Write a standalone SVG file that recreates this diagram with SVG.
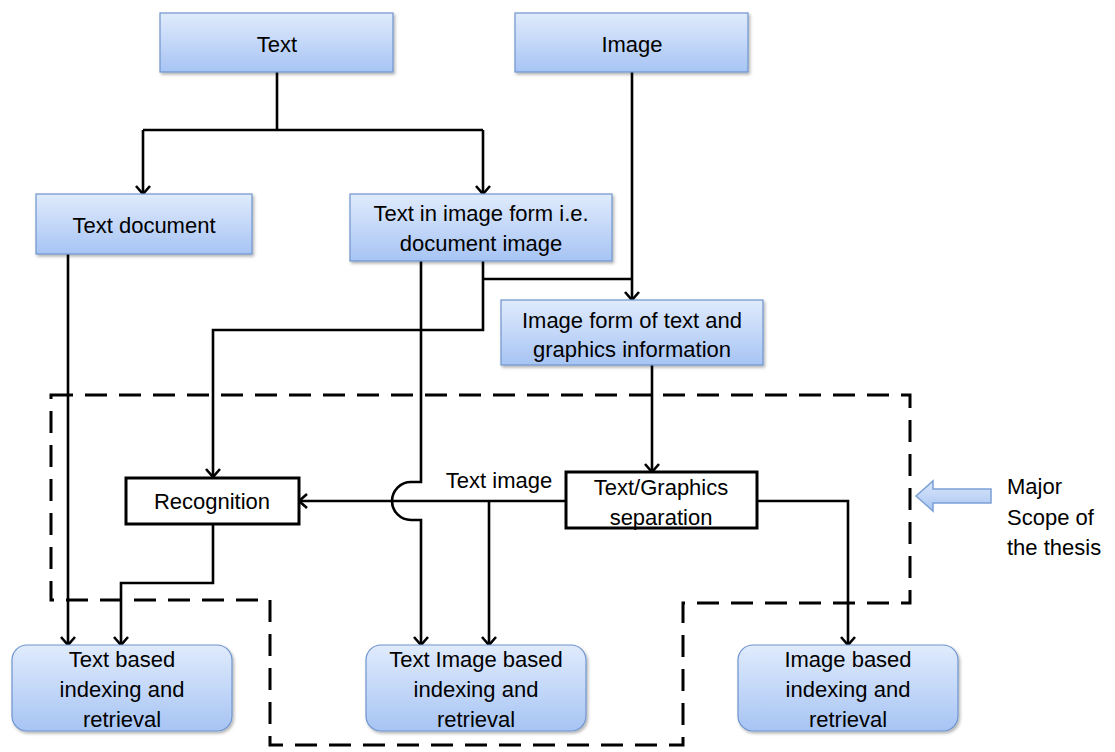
<svg xmlns="http://www.w3.org/2000/svg" width="1115" height="752" viewBox="0 0 1115 752">
<style>
.bx{fill:url(#bg);stroke:#6e94cd;stroke-width:1.2;filter:url(#sh)}
.wb{fill:#fff;stroke:#000;stroke-width:3}
.t{font-family:"Liberation Sans",Arial,sans-serif;font-size:22px;fill:#000;text-anchor:middle}
.c{fill:none;stroke:#000;stroke-width:2.6}
.ca{fill:none;stroke:#000;stroke-width:2.6;marker-end:url(#ah)}
.d{fill:none;stroke:#000;stroke-width:3;stroke-dasharray:22 12}
</style>
<defs>
<linearGradient id="bg" x1="0" y1="0" x2="0" y2="1">
<stop offset="0" stop-color="#e0ebfc"/>
<stop offset="1" stop-color="#a7c4f4"/>
</linearGradient>
<linearGradient id="ag" x1="0" y1="0" x2="0" y2="1">
<stop offset="0" stop-color="#dbe7fb"/>
<stop offset="1" stop-color="#a9c5f2"/>
</linearGradient>
<filter id="sh" x="-10%" y="-10%" width="125%" height="130%">
<feDropShadow dx="1.5" dy="2" stdDeviation="1.5" flood-color="#000" flood-opacity="0.3"/>
</filter>
<marker id="ah" markerUnits="userSpaceOnUse" markerWidth="20" markerHeight="20" viewBox="0 0 20 20" refX="11" refY="10" orient="auto">
<path d="M3,3 L11,10 L3,17" fill="none" stroke="#000" stroke-width="2.6"/>
</marker>
</defs>
<rect width="1115" height="752" fill="#fff"/>

<g id="scope">
<path class="d" d="M51,395 H910 V603 H683 V745 H270 V600 H51 Z"/>
</g>

<g id="connectors">
<path class="c" d="M277,72 V130"/>
<path class="c" d="M143,130 H483"/>
<path class="ca" d="M143,130 V194"/>
<path class="ca" d="M483,130 V194"/>
<path class="ca" d="M632,72 V300"/>
<path class="c" d="M483,279 H632"/>
<path class="ca" d="M483,261 V330 H213 V477"/>
<path class="ca" d="M421,261 V482 H411 A19,19 0 0 0 411,520 H421 V645"/>
<path class="ca" d="M652,365 V472"/>
<path class="ca" d="M566,501 H299"/>
<path class="ca" d="M489,501 V645"/>
<path class="ca" d="M757,501 H848 V645"/>
<path class="ca" d="M213,524 V583 H121 V645"/>
<path class="ca" d="M68,254 V645"/>
</g>

<g id="n-text">
<rect class="bx" x="160" y="13" width="233" height="59"/>
<text class="t" x="277" y="52">Text</text>
</g>
<g id="n-image">
<rect class="bx" x="515" y="13" width="233" height="59"/>
<text class="t" x="632" y="52">Image</text>
</g>
<g id="n-textdoc">
<rect class="bx" x="36" y="194" width="216" height="60"/>
<text class="t" x="144" y="233">Text document</text>
</g>
<g id="n-textimg">
<rect class="bx" x="350" y="194" width="262" height="67"/>
<text class="t" x="481" y="221">Text in image form i.e.</text>
<text class="t" x="481" y="251">document image</text>
</g>
<g id="n-imgform">
<rect class="bx" x="501" y="300" width="262" height="65"/>
<text class="t" x="632" y="328">Image form of text and</text>
<text class="t" x="632" y="357">graphics information</text>
</g>
<g id="n-recog">
<rect class="wb" x="126" y="478" width="173" height="46"/>
<text class="t" x="212" y="509">Recognition</text>
</g>
<g id="n-tgsep">
<rect class="wb" x="566" y="472" width="191" height="56"/>
<text class="t" x="661" y="495">Text/Graphics</text>
<text class="t" x="661" y="525">separation</text>
</g>
<g id="l-textimage">
<text class="t" x="499" y="488">Text image</text>
</g>
<g id="n-textbased">
<rect class="bx" x="12" y="645" width="220" height="86" rx="15"/>
<text class="t" x="122" y="667">Text based</text>
<text class="t" x="122" y="697">indexing and</text>
<text class="t" x="122" y="727">retrieval</text>
</g>
<g id="n-textimagebased">
<rect class="bx" x="366" y="645" width="220" height="86" rx="15"/>
<text class="t" x="476" y="667">Text Image based</text>
<text class="t" x="476" y="697">indexing and</text>
<text class="t" x="476" y="727">retrieval</text>
</g>
<g id="n-imagebased">
<rect class="bx" x="738" y="645" width="220" height="86" rx="15"/>
<text class="t" x="848" y="667">Image based</text>
<text class="t" x="848" y="697">indexing and</text>
<text class="t" x="848" y="727">retrieval</text>
</g>
<g id="n-scope-label">
<polygon points="916,496 933,481 933,489 991,489 991,503 933,503 933,511" fill="url(#ag)" stroke="#7ba0d6" stroke-width="1.5"/>
<text class="t" x="1007" y="494" style="text-anchor:start">Major</text>
<text class="t" x="1007" y="525" style="text-anchor:start">Scope of</text>
<text class="t" x="1007" y="555" style="text-anchor:start">the thesis</text>
</g>
</svg>
